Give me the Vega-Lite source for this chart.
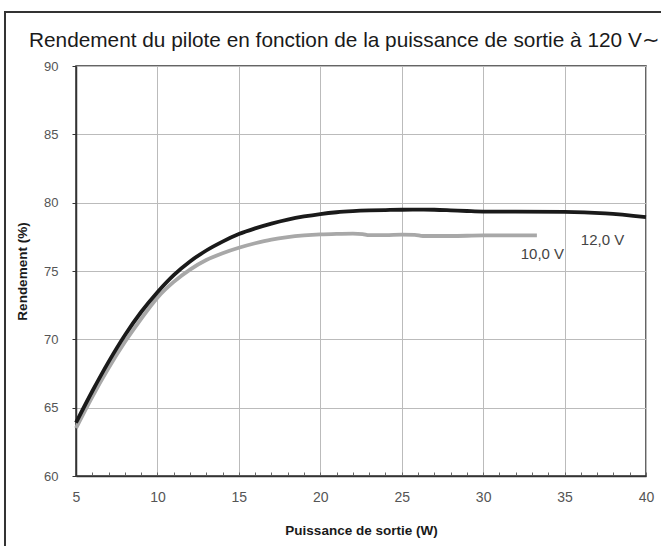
{
  "$schema": "https://vega.github.io/schema/vega-lite/v6.json",
  "width": 570,
  "height": 410,
  "autosize": {"type": "none"},
  "padding": {"left": 76, "top": 66, "right": 15, "bottom": 70},
  "background": "white",
  "config": {
    "view": {"stroke": "#333333", "strokeWidth": 1.5},
    "font": "Liberation Sans"
  },
  "title": {
    "text": "Rendement du pilote en fonction de la puissance de sortie à 120 V∼",
    "anchor": "start",
    "frame": "group",
    "font": "Liberation Sans",
    "fontSize": 20.8,
    "fontWeight": "normal",
    "color": "#1a1a1a",
    "baseline": "alphabetic",
    "dx": -47,
    "dy": 70,
    "offset": 13
  },
  "datasets": {
    "curves": [
      {"puissance": 5, "rendement": 63.5, "tension": "10,0 V"},
      {"puissance": 6, "rendement": 65.8, "tension": "10,0 V"},
      {"puissance": 7, "rendement": 67.9, "tension": "10,0 V"},
      {"puissance": 8, "rendement": 69.8, "tension": "10,0 V"},
      {"puissance": 9, "rendement": 71.5, "tension": "10,0 V"},
      {"puissance": 10, "rendement": 73.05, "tension": "10,0 V"},
      {"puissance": 11, "rendement": 74.2, "tension": "10,0 V"},
      {"puissance": 12, "rendement": 75.1, "tension": "10,0 V"},
      {"puissance": 13, "rendement": 75.8, "tension": "10,0 V"},
      {"puissance": 14, "rendement": 76.3, "tension": "10,0 V"},
      {"puissance": 15, "rendement": 76.7, "tension": "10,0 V"},
      {"puissance": 16, "rendement": 77.03, "tension": "10,0 V"},
      {"puissance": 17, "rendement": 77.3, "tension": "10,0 V"},
      {"puissance": 18, "rendement": 77.48, "tension": "10,0 V"},
      {"puissance": 19, "rendement": 77.6, "tension": "10,0 V"},
      {"puissance": 20, "rendement": 77.68, "tension": "10,0 V"},
      {"puissance": 21, "rendement": 77.72, "tension": "10,0 V"},
      {"puissance": 22, "rendement": 77.74, "tension": "10,0 V"},
      {"puissance": 22.6, "rendement": 77.7, "tension": "10,0 V"},
      {"puissance": 23, "rendement": 77.62, "tension": "10,0 V"},
      {"puissance": 24, "rendement": 77.62, "tension": "10,0 V"},
      {"puissance": 25, "rendement": 77.66, "tension": "10,0 V"},
      {"puissance": 25.8, "rendement": 77.65, "tension": "10,0 V"},
      {"puissance": 26.3, "rendement": 77.56, "tension": "10,0 V"},
      {"puissance": 28, "rendement": 77.56, "tension": "10,0 V"},
      {"puissance": 30, "rendement": 77.6, "tension": "10,0 V"},
      {"puissance": 33.3, "rendement": 77.6, "tension": "10,0 V"},
      {"puissance": 5, "rendement": 63.9, "tension": "12,0 V"},
      {"puissance": 6, "rendement": 66.2, "tension": "12,0 V"},
      {"puissance": 7, "rendement": 68.35, "tension": "12,0 V"},
      {"puissance": 8, "rendement": 70.3, "tension": "12,0 V"},
      {"puissance": 9, "rendement": 72.0, "tension": "12,0 V"},
      {"puissance": 10, "rendement": 73.45, "tension": "12,0 V"},
      {"puissance": 11, "rendement": 74.7, "tension": "12,0 V"},
      {"puissance": 12, "rendement": 75.7, "tension": "12,0 V"},
      {"puissance": 13, "rendement": 76.5, "tension": "12,0 V"},
      {"puissance": 14, "rendement": 77.15, "tension": "12,0 V"},
      {"puissance": 15, "rendement": 77.7, "tension": "12,0 V"},
      {"puissance": 16, "rendement": 78.12, "tension": "12,0 V"},
      {"puissance": 17, "rendement": 78.47, "tension": "12,0 V"},
      {"puissance": 18, "rendement": 78.76, "tension": "12,0 V"},
      {"puissance": 19, "rendement": 78.99, "tension": "12,0 V"},
      {"puissance": 20, "rendement": 79.17, "tension": "12,0 V"},
      {"puissance": 21, "rendement": 79.3, "tension": "12,0 V"},
      {"puissance": 22, "rendement": 79.38, "tension": "12,0 V"},
      {"puissance": 23, "rendement": 79.43, "tension": "12,0 V"},
      {"puissance": 24, "rendement": 79.46, "tension": "12,0 V"},
      {"puissance": 25, "rendement": 79.48, "tension": "12,0 V"},
      {"puissance": 26, "rendement": 79.49, "tension": "12,0 V"},
      {"puissance": 27, "rendement": 79.48, "tension": "12,0 V"},
      {"puissance": 28, "rendement": 79.44, "tension": "12,0 V"},
      {"puissance": 29, "rendement": 79.39, "tension": "12,0 V"},
      {"puissance": 30, "rendement": 79.35, "tension": "12,0 V"},
      {"puissance": 32, "rendement": 79.34, "tension": "12,0 V"},
      {"puissance": 35, "rendement": 79.33, "tension": "12,0 V"},
      {"puissance": 37.5, "rendement": 79.22, "tension": "12,0 V"},
      {"puissance": 40, "rendement": 78.95, "tension": "12,0 V"}
    ],
    "labels": [
      {"puissance": 33.64, "rendement": 76.21, "label": "10,0 V"},
      {"puissance": 37.33, "rendement": 77.29, "label": "12,0 V"}
    ]
  },
  "layer": [
    {
      "data": {"name": "curves"},
      "mark": {"type": "line", "interpolate": "monotone", "strokeWidth": 3.8, "strokeCap": "butt"},
      "encoding": {
        "x": {
          "field": "puissance",
          "type": "quantitative",
          "scale": {"domain": [5, 40], "nice": false, "zero": false},
          "axis": {
            "title": "Puissance de sortie (W)",
            "titleFont": "Liberation Sans",
            "titleFontSize": 13.5,
            "titleFontWeight": "bold",
            "titleColor": "#1a1a1a",
            "titlePadding": 19,
            "values": [5,6,7,8,9,10,11,12,13,14,15,16,17,18,19,20,21,22,23,24,25,26,27,28,29,30,31,32,33,34,35,36,37,38,39,40],
            "tickCount": 40,
            "labelExpr": "datum.value % 5 === 0 ? datum.label : ''",
            "labelOverlap": false,
            "labelFlush": false,
            "labelFontSize": 14,
            "labelColor": "#555555",
            "labelPadding": 18,
            "tickSize": -4,
            "tickColor": "#666666",
            "tickWidth": 1,
            "domainColor": "#333333",
            "domainWidth": 1.5,
            "grid": true,
            "gridColor": "#bbbbbb",
            "gridWidth": 1,
            "gridOpacity": {"condition": {"test": "datum.value % 5 === 0", "value": 1}, "value": 0}
          }
        },
        "y": {
          "field": "rendement",
          "type": "quantitative",
          "scale": {"domain": [60, 90], "nice": false, "zero": false},
          "axis": {
            "title": "Rendement (%)",
            "titleFont": "Liberation Sans",
            "titleFontSize": 13.5,
            "titleFontWeight": "bold",
            "titleColor": "#1a1a1a",
            "titlePadding": 14,
            "values": [60, 65, 70, 75, 80, 85, 90],
            "labelFontSize": 13,
            "labelColor": "#555555",
            "labelPadding": 14,
            "tickSize": 4,
            "tickColor": "#333333",
            "domainColor": "#333333",
            "domainWidth": 1.5,
            "grid": true,
            "gridColor": "#bbbbbb",
            "gridWidth": 1
          }
        },
        "color": {
          "field": "tension",
          "type": "nominal",
          "scale": {"domain": ["10,0 V", "12,0 V"], "range": ["#a8a8a8", "#1a1a1a"]},
          "legend": null
        }
      }
    },
    {
      "data": {"name": "labels"},
      "mark": {"type": "text", "fontSize": 15, "color": "#444444", "align": "center", "baseline": "middle", "font": "Liberation Sans"},
      "encoding": {
        "x": {"field": "puissance", "type": "quantitative"},
        "y": {"field": "rendement", "type": "quantitative"},
        "text": {"field": "label"}
      }
    },
    {
      "data": {"values": [{}]},
      "mark": {"type": "rect", "filled": false, "color": "#333333", "strokeWidth": 2, "clip": false},
      "encoding": {
        "x": {"datum": 0.64, "type": "quantitative"},
        "x2": {"datum": 45},
        "y": {"datum": 93.96, "type": "quantitative"},
        "y2": {"datum": 40}
      }
    }
  ]
}
